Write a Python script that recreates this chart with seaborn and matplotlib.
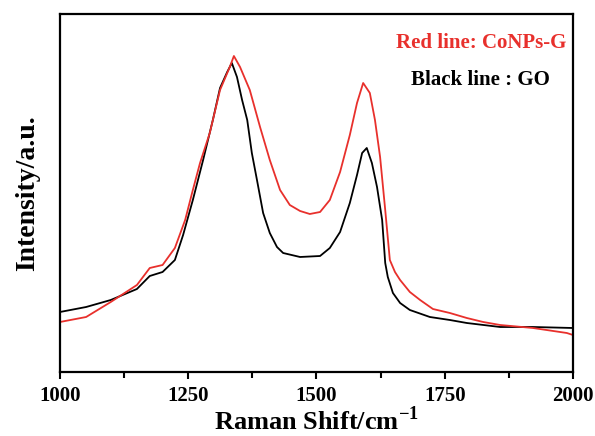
import numpy as np
import pandas as pd
import matplotlib
matplotlib.use("Agg")
import matplotlib.pyplot as plt
import seaborn as sns

# Raman shift (cm-1) and intensity (a.u.)
red_shift = [1000, 1051, 1099, 1150, 1175, 1200, 1224, 1244, 1259, 1273, 1292, 1312,
             1331, 1339, 1351, 1370, 1390, 1409, 1429, 1448, 1468, 1487, 1507, 1526,
             1546, 1565, 1579, 1591, 1604, 1614, 1624, 1634, 1643, 1653, 1663, 1682,
             1702, 1727, 1760, 1793, 1825, 1858, 1922, 1988, 2000]
red_int = [50, 55, 70, 87, 104, 107, 124, 152, 182, 209, 239, 282,
           305, 316, 305, 282, 245, 212, 182, 167, 161, 158, 160, 172,
           200, 237, 269, 289, 279, 252, 215, 162, 112, 100, 92, 80,
           72, 63, 59, 54, 50, 47, 44, 39, 37]

black_shift = [1000, 1051, 1099, 1150, 1175, 1200, 1214, 1224, 1240, 1259, 1279, 1298,
               1312, 1326, 1335, 1345, 1355, 1365, 1374, 1384, 1396, 1409, 1423, 1435,
               1468, 1507, 1526, 1546, 1565, 1579, 1589, 1598, 1608, 1618, 1628, 1634,
               1639, 1649, 1663, 1682, 1721, 1760, 1793, 1858, 1922, 2000]
black_int = [60, 65, 72, 83, 96, 100, 107, 112, 137, 172, 212, 252,
             284, 300, 309, 295, 272, 252, 219, 192, 159, 139, 125, 119,
             115, 116, 124, 140, 169, 197, 219, 224, 209, 185, 152, 109,
             95, 79, 69, 62, 55, 52, 49, 45, 45, 44]

red_df = pd.DataFrame({"shift": red_shift, "intensity": red_int})
black_df = pd.DataFrame({"shift": black_shift, "intensity": black_int})

sns.set_style("ticks")
plt.rcParams['font.family'] = ['Liberation Serif', 'DejaVu Serif']
plt.rcParams['font.weight'] = 'bold'
plt.rcParams['text.color'] = 'black'
plt.rcParams['axes.labelcolor'] = 'black'
plt.rcParams['xtick.color'] = 'black'
plt.rcParams['axes.edgecolor'] = 'black'
plt.rcParams['mathtext.fontset'] = 'custom'
plt.rcParams['mathtext.rm'] = 'Liberation Serif:bold'
plt.rcParams['mathtext.bf'] = 'Liberation Serif:bold'

fig = plt.figure(figsize=(5.95, 4.36), dpi=100)
ax = fig.add_axes([0.1008, 0.1468, 0.8622, 0.8211])

red = "#e8302c"
sns.lineplot(data=black_df, x="shift", y="intensity", color="black", lw=1.3, ax=ax)
sns.lineplot(data=red_df, x="shift", y="intensity", color=red, lw=1.3, ax=ax)

ax.set_xlim(1000, 2000)
ax.set_ylim(0, 358)
ax.set_xticks([1000, 1250, 1500, 1750, 2000])
ax.set_xticks([1125, 1375, 1625, 1875], minor=True)
ax.set_yticks([])
ax.tick_params(axis='x', which='major', direction='out', length=5, width=1.5,
               labelsize=15, pad=5)
ax.tick_params(axis='x', which='minor', direction='out', length=4, width=1.5)
for lab in ax.get_xticklabels():
    lab.set_fontweight('bold')
for sp in ax.spines.values():
    sp.set_linewidth(1.6)
    sp.set_visible(True)

ax.set_xlabel("Raman Shift/cm$^{-1}$", fontsize=19, fontweight='bold', labelpad=0)
ax.set_ylabel("Intensity/a.u.", fontsize=20, fontweight='bold', labelpad=14)

ax.text(0.988, 0.919, "Red line: CoNPs-G", color=red, fontsize=15, fontweight='bold',
        ha='right', va='center', transform=ax.transAxes)
ax.text(0.955, 0.816, "Black line : GO", color="black", fontsize=15, fontweight='bold',
        ha='right', va='center', transform=ax.transAxes)

fig.savefig("out.png", dpi=100)
